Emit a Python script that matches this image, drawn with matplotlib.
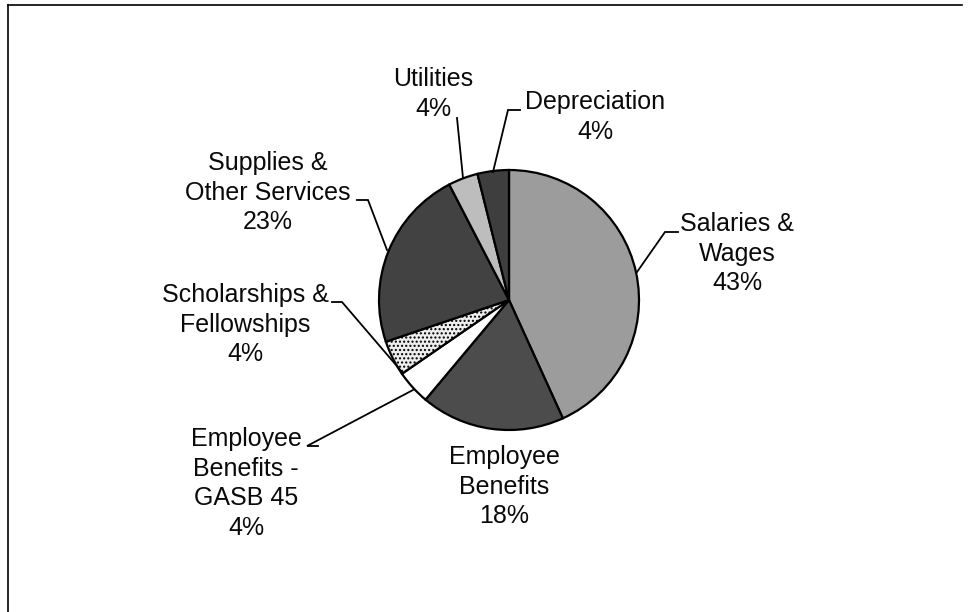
import matplotlib
matplotlib.use("Agg")
import matplotlib.pyplot as plt
from matplotlib.lines import Line2D

# ---- data ----
categories = ["Salaries &\nWages", "Employee\nBenefits", "Employee\nBenefits -\nGASB 45",
              "Scholarships &\nFellowships", "Supplies &\nOther Services", "Utilities", "Depreciation"]
values = [43.2, 17.9, 4.3, 4.4, 22.6, 3.7, 3.9]
pct_labels = ["43%", "18%", "4%", "4%", "23%", "4%", "4%"]

colors = ["#9c9c9c", "#4c4c4c", "#ffffff", "#eeeeee", "#424242", "#bdbdbd", "#3e3e3e"]
hatches = [None, None, None, "....", None, None, None]

W, H = 973, 612
fig = plt.figure(figsize=(W / 100, H / 100), dpi=100)
ax = fig.add_axes([0, 0, 1, 1])
ax.set_xlim(0, W)
ax.set_ylim(0, H)
ax.set_aspect("equal")
ax.axis("off")

def Y(y):
    return H - y

cx, cy, r = 509, 300, 130
wedges, _ = ax.pie(values, colors=colors, startangle=90, counterclock=False,
                   center=(cx, Y(cy)), radius=r, frame=True,
                   wedgeprops=dict(edgecolor="black", linewidth=1.6))
for w, h in zip(wedges, hatches):
    if h:
        w.set_hatch(h)
ax.set_xlim(0, W)
ax.set_ylim(0, H)
ax.axis("off")

font = dict(family=["Liberation Sans", "DejaVu Sans"], fontsize=18, color="#0a0a0a",
            ha="center", va="center", linespacing=1.29)

# label positions (top line centre) in pixel coords
label_pos = [(737, 224), (504, 457), (246, 439), (245, 295), (268, 163), (433, 79), (595, 102)]
line_h = 29.6
for cat, pct, (x, y) in zip(categories, pct_labels, label_pos):
    lines = cat.split("\n") + [pct]
    n = len(lines)
    yc = y + (n - 1) * line_h / 2
    ax.text(x, Y(yc), "\n".join(lines), **font)

leaders = [
    [(678, 232), (665, 232), (637, 272)],
    None,
    [(318, 446), (307, 446), (413, 390)],
    [(332, 302), (342, 302), (402, 372)],
    [(357, 200), (368, 200), (387, 250)],
    [(457, 118), (463, 178)],
    [(520, 110), (508, 110), (493, 172)],
]
for pts in leaders:
    if pts:
        xs = [p[0] for p in pts]
        ys = [Y(p[1]) for p in pts]
        ax.plot(xs, ys, color="black", lw=1.3, solid_joinstyle="miter")

# frame lines (top and left)
fig.add_artist(Line2D([8 / W, 962 / W], [1 - 5 / H, 1 - 5 / H], color="black", lw=1.2, transform=fig.transFigure))
fig.add_artist(Line2D([8 / W, 8 / W], [1 - 5 / H, 0], color="black", lw=1.2, transform=fig.transFigure))

fig.savefig("out.png", dpi=100, facecolor="white")
